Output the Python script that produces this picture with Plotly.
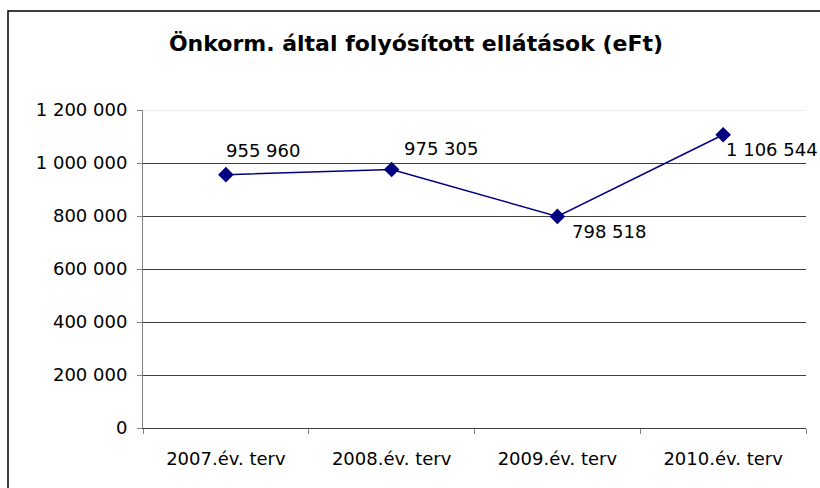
import plotly.graph_objects as go

categories = ["2007.év. terv", "2008.év. terv", "2009.év. terv", "2010.év. terv"]
values = [955960, 975305, 798518, 1106544]
value_labels = ["955 960", "975 305", "798 518", "1 106 544"]
y_tickvals = [0, 200000, 400000, 600000, 800000, 1000000, 1200000]
y_ticktext = ["0", "200 000", "400 000", "600 000", "800 000", "1 000 000", "1 200 000"]
title_text = "Önkorm. által folyósított ellátások (eFt)"

label_xshift = [-2, 10, 13, 1]
label_yshift = [24, 21, -15, -15]

FONT = "DejaVu Sans"
NAVY = "#000080"

fig = go.Figure()
fig.add_trace(go.Scatter(
    x=categories, y=values, mode="lines+markers",
    line=dict(color=NAVY, width=1.5),
    marker=dict(symbol="diamond", size=12, color=NAVY),
    hoverinfo="skip", showlegend=False,
))

for c, v, t, dx, dy in zip(categories, values, value_labels, label_xshift, label_yshift):
    fig.add_annotation(x=c, y=v, text=t, showarrow=False, xanchor="left", yanchor="middle",
                       xshift=dx, yshift=dy, font=dict(family=FONT, size=18, color="black"))

L, R, T, B = 143, 14, 110, 60
W, H = 820, 488
pw, ph = W - L - R, H - T - B

# chart border
fig.add_shape(type="rect", xref="paper", yref="paper",
              x0=(8 - L) / pw, x1=(W + 10 - L) / pw,
              y0=(H - B - (H + 10)) / ph, y1=(H - B - 11) / ph,
              line=dict(color="black", width=1.5), layer="below")
# faint top gridline
fig.add_shape(type="line", xref="paper", yref="y", x0=0, x1=1,
              y0=y_tickvals[-1], y1=y_tickvals[-1],
              line=dict(color="#dddddd", width=1), layer="above")

fig.update_layout(
    width=W, height=H,
    margin=dict(l=L, r=R, t=T, b=B),
    paper_bgcolor="white", plot_bgcolor="white",
    title=dict(text="<b>" + title_text + "</b>", x=416 / W, xref="container", xanchor="center",
               y=1 - 43 / H, yref="container", yanchor="middle",
               font=dict(family=FONT, size=22, color="black")),
    xaxis=dict(type="category", tickson="boundaries", ticks="outside", ticklen=5,
               tickcolor="#808080", showline=True, linecolor="#404040", linewidth=1,
               showgrid=False, tickfont=dict(family=FONT, size=18, color="black"),
               ticklabelstandoff=14, range=[-0.5, 3.5]),
    yaxis=dict(range=[0, 1200000], tickvals=y_tickvals, ticktext=y_ticktext,
               ticks="outside", ticklen=5, tickcolor="#808080",
               showline=True, linecolor="#808080", linewidth=1,
               showgrid=True, gridcolor="#404040", gridwidth=1, zeroline=False,
               tickfont=dict(family=FONT, size=18, color="black"), ticklabelstandoff=6),
)

fig.write_html("out.html", config={"displayModeBar": False},
               post_script="document.body.style.margin='0';document.body.style.overflow='hidden';")
